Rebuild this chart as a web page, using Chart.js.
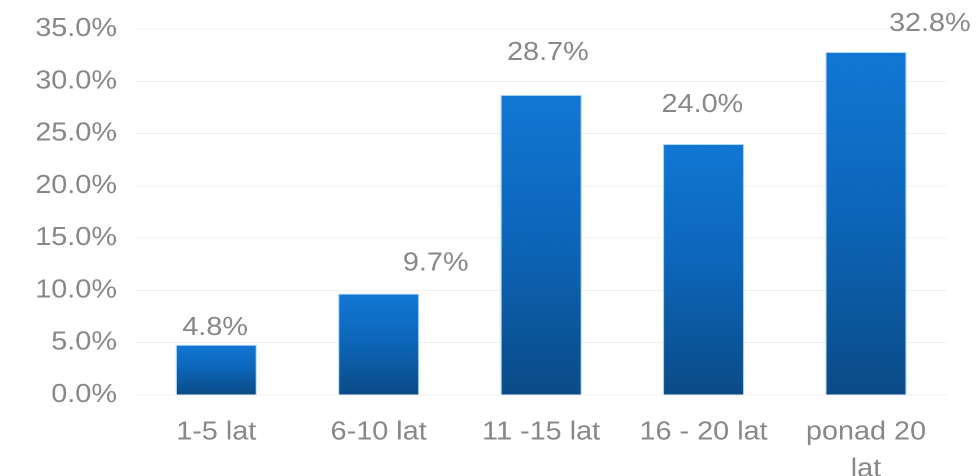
<!DOCTYPE html>
<html>
<head>
<meta charset="utf-8">
<script src="https://cdn.jsdelivr.net/npm/chart.js@4/dist/chart.umd.min.js"></script>
<style>
  html, body { margin: 0; padding: 0; background: #ffffff; overflow: hidden; }
  #wrap { width: 864px; height: 476px; transform: scaleX(1.12963); transform-origin: 0 0; }
</style>
</head>
<body>
<div id="wrap"><canvas id="c" width="864" height="476"></canvas></div>
<script>
// ---- data ----
const categories = ['1-5 lat', '6-10 lat', '11 -15 lat', '16 - 20 lat', ['ponad 20', 'lat']];
const shares = [4.8, 9.7, 28.7, 24.0, 32.8];
const yTicks = [0, 5, 10, 15, 20, 25, 30, 35];

// label placement offsets (px) relative to the bar-top centre
const labelDx = [-1, 50.5, 6, -1, 56.5];
const labelDy = [-17, -30, -42, -39, -28];

const TEXT = '#888888';
const FONT = "'Liberation Sans', Arial, sans-serif";

const valueLabels = {
  id: 'valueLabels',
  afterDatasetsDraw(chart) {
    const ctx = chart.ctx;
    const meta = chart.getDatasetMeta(0);
    ctx.save();
    ctx.fillStyle = TEXT;
    ctx.font = `25.5px ${FONT}`;
    ctx.textAlign = 'center';
    ctx.textBaseline = 'middle';
    meta.data.forEach((bar, i) => {
      ctx.fillText(shares[i].toFixed(1) + '%', bar.x + labelDx[i], bar.y + labelDy[i]);
    });
    ctx.restore();
  }
};

function barGradient(context) {
  const chart = context.chart;
  const y = chart.scales && chart.scales.y;
  if (!y || context.raw === undefined) return '#0d63b3';
  const top = y.getPixelForValue(context.raw);
  const base = y.getPixelForValue(0);
  if (!isFinite(top) || !isFinite(base) || top === base) return '#0d63b3';
  const g = chart.ctx.createLinearGradient(0, top, 0, base);
  g.addColorStop(0, '#1277d4');
  g.addColorStop(0.45, '#0d67bb');
  g.addColorStop(1, '#0b4b87');
  return g;
}

new Chart(document.getElementById('c'), {
  type: 'bar',
  data: {
    labels: categories,
    datasets: [{
      data: shares,
      backgroundColor: barGradient,
      borderColor: 'rgba(110,185,240,0.55)',
      borderWidth: 1,
      barPercentage: 0.5,
      categoryPercentage: 1.0
    }]
  },
  options: {
    responsive: false,
    devicePixelRatio: 2,
    animation: false,
    layout: { padding: { top: 29, right: 25.5, bottom: 0, left: 0 } },
    plugins: {
      legend: { display: false },
      tooltip: { enabled: false }
    },
    scales: {
      x: {
        grid: { display: false },
        border: { display: false },
        ticks: {
          color: TEXT,
          font: { family: FONT, size: 25.5, lineHeight: 1.45 },
          padding: 11,
          maxRotation: 0,
          autoSkip: false
        },
        afterFit(scale) {
          scale.height = 81;
          scale.paddingTop = 0; scale.paddingBottom = 0;
          scale.paddingLeft = 0; scale.paddingRight = 0;
        }
      },
      y: {
        min: 0,
        max: 35,
        afterBuildTicks(scale) { scale.ticks = yTicks.map(v => ({ value: v })); },
        grid: { color: '#efefef', lineWidth: 1, drawTicks: false },
        border: { display: false },
        ticks: {
          color: TEXT,
          font: { family: FONT, size: 25.5 },
          padding: 16,
          callback: v => Number(v).toFixed(1) + '%'
        },
        afterFit(scale) {
          scale.width = 119.5;
          scale.paddingTop = 0; scale.paddingBottom = 0;
        }
      }
    }
  },
  plugins: [valueLabels]
});
</script>
</body>
</html>
